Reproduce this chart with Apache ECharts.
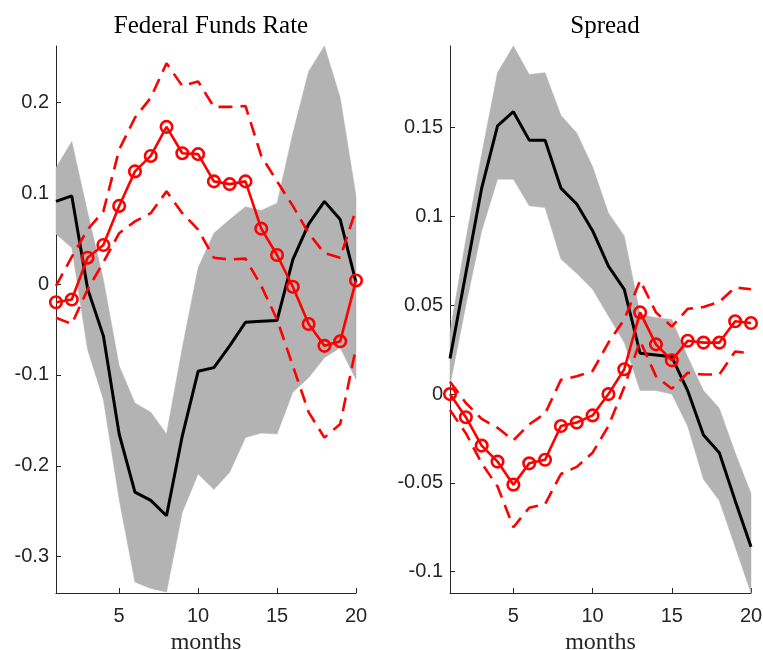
<!DOCTYPE html>
<html>
<head>
	<meta http-equiv="Content-Type" content="text/html;charset=utf-8" />
	<title>IRF</title>
	<script src="https://cdnjs.cloudflare.com/ajax/libs/echarts/6.0.0/echarts.min.js"></script>
	<style> body { margin: 0; background: #fff; } </style>
</head>
<body>
	<div id="chart" style="width:763px; height:650px;"></div>
	<script>

		////////////////////////////////////////////////////////
		//////////////////////// Dados /////////////////////////
		////////////////////////////////////////////////////////

		var months = [1, 2, 3, 4, 5, 6, 7, 8, 9, 10, 11, 12, 13, 14, 15, 16, 17, 18, 19, 20];
		var xTicks = [5, 10, 15, 20];

		// Federal Funds Rate
		var ffrMedian = [0.091, 0.097, -0.005, -0.057, -0.165, -0.229, -0.238, -0.255, -0.167, -0.096, -0.092, -0.068, -0.042, -0.041, -0.040, 0.027, 0.066, 0.091, 0.071, 0.002];
		var ffrBandUp = [0.128, 0.157, 0.079, 0.005, -0.090, -0.131, -0.141, -0.165, -0.070, 0.018, 0.056, 0.071, 0.085, 0.081, 0.089, 0.166, 0.234, 0.262, 0.205, 0.097];
		var ffrBandLo = [0.055, 0.040, -0.072, -0.127, -0.237, -0.328, -0.335, -0.339, -0.251, -0.209, -0.226, -0.207, -0.169, -0.164, -0.165, -0.119, -0.103, -0.081, -0.070, -0.105];
		var ffrIrf    = [-0.020, -0.017, 0.029, 0.043, 0.086, 0.124, 0.141, 0.173, 0.144, 0.143, 0.113, 0.110, 0.113, 0.061, 0.032, -0.003, -0.044, -0.068, -0.063, 0.004];
		var ffrIrfUp  = [-0.002, 0.030, 0.060, 0.080, 0.148, 0.183, 0.205, 0.243, 0.218, 0.223, 0.195, 0.195, 0.196, 0.141, 0.113, 0.086, 0.056, 0.034, 0.029, 0.082];
		var ffrIrfLo  = [-0.037, -0.044, -0.006, 0.024, 0.056, 0.069, 0.078, 0.102, 0.078, 0.060, 0.029, 0.027, 0.028, -0.002, -0.039, -0.090, -0.141, -0.169, -0.154, -0.070];
		var ffrTicks  = [-0.3, -0.2, -0.1, 0, 0.1, 0.2];

		// Spread
		var sprMedian = [0.020, 0.068, 0.116, 0.151, 0.159, 0.143, 0.143, 0.116, 0.107, 0.092, 0.072, 0.059, 0.023, 0.022, 0.021, 0.002, -0.023, -0.033, -0.060, -0.086];
		var sprBandUp = [0.035, 0.087, 0.135, 0.181, 0.196, 0.180, 0.181, 0.157, 0.147, 0.128, 0.102, 0.089, 0.045, 0.043, 0.042, 0.021, 0.002, -0.008, -0.033, -0.056];
		var sprBandLo = [0.005, 0.050, 0.092, 0.121, 0.121, 0.106, 0.105, 0.076, 0.068, 0.059, 0.044, 0.029, 0.002, 0.002, 0.000, -0.018, -0.048, -0.060, -0.086, -0.112];
		var sprIrf    = [0.000, -0.013, -0.029, -0.038, -0.051, -0.039, -0.037, -0.018, -0.016, -0.012, 0.000, 0.014, 0.046, 0.028, 0.019, 0.030, 0.029, 0.029, 0.041, 0.040];
		var sprIrfUp  = [0.007, -0.005, -0.014, -0.019, -0.026, -0.017, -0.011, 0.008, 0.010, 0.013, 0.029, 0.042, 0.064, 0.046, 0.038, 0.048, 0.049, 0.052, 0.060, 0.059];
		var sprIrfLo  = [-0.009, -0.022, -0.039, -0.052, -0.075, -0.064, -0.062, -0.045, -0.041, -0.033, -0.018, 0.004, 0.030, 0.010, 0.003, 0.012, 0.011, 0.011, 0.024, 0.023];
		var sprTicks  = [-0.1, -0.05, 0, 0.05, 0.1, 0.15];

		////////////////////////////////////////////////////////
		////////////////////// Gráfico /////////////////////////
		////////////////////////////////////////////////////////

		var corTexto = '#262626';
		var corBanda = '#b3b3b3';
		var corVermelho = '#ff0000';
		var fonteSerif = '"Liberation Serif", "DejaVu Serif", serif';
		var fonteSans = '"Liberation Sans", Arial, sans-serif';

		function pares(ys) {
			return months.map(function (m, i) { return [m, ys[i]]; });
		}

		function eixoX(idx) {
			return {
				gridIndex: idx, type: 'value', min: 1, max: 20,
				name: 'months', nameLocation: 'middle', nameGap: 37,
				nameTextStyle: { fontFamily: fonteSerif, fontSize: 24, color: corTexto },
				axisLine: { onZero: false, lineStyle: { color: corTexto, width: 1 } },
				axisTick: { inside: true, length: 5, customValues: xTicks, lineStyle: { color: corTexto } },
				axisLabel: { customValues: xTicks, fontFamily: fonteSans, fontSize: 20, color: corTexto, margin: 13 },
				splitLine: { show: false }
			};
		}
		function eixoY(idx, min, max, ticks) {
			return {
				gridIndex: idx, type: 'value', min: min, max: max,
				axisLine: { show: true, onZero: false, lineStyle: { color: corTexto, width: 1 } },
				axisTick: { show: true, inside: true, length: 5, customValues: ticks, lineStyle: { color: corTexto } },
				axisLabel: { customValues: ticks, fontFamily: fonteSans, fontSize: 20, color: corTexto, margin: 7,
					formatter: function (v) { return String(+v.toFixed(3)); } },
				splitLine: { show: false }
			};
		}

		// banda de confiança: polígono (limite superior e depois o inferior de volta)
		function banda(idx, up, lo) {
			return {
				type: 'custom', xAxisIndex: idx, yAxisIndex: idx, silent: true, z: 1,
				data: months.map(function (m, i) { return [m, lo[i], up[i]]; }),
				encode: { x: 0, y: [1, 2] },
				renderItem: function (params, api) {
					if (params.dataIndex !== 0) return;
					var pts = [];
					for (var i = 0; i < months.length; i++) pts.push(api.coord([months[i], up[i]]));
					for (var j = months.length - 1; j >= 0; j--) pts.push(api.coord([months[j], lo[j]]));
					return { type: 'polygon', shape: { points: pts }, style: { fill: corBanda, stroke: corBanda, lineWidth: 0.5 } };
				}
			};
		}

		function painel(idx, median, bandUp, bandLo, irf, irfUp, irfLo) {
			var base = { xAxisIndex: idx, yAxisIndex: idx, type: 'line', symbol: 'none', silent: true };
			var tracejado = { color: corVermelho, width: 2.6, type: [14, 8] };
			return [
				banda(idx, bandUp, bandLo),
				Object.assign({}, base, { data: pares(median), lineStyle: { color: '#000', width: 3 }, z: 3 }),
				Object.assign({}, base, { data: pares(irfUp), lineStyle: tracejado, z: 4 }),
				Object.assign({}, base, { data: pares(irfLo), lineStyle: tracejado, z: 4 }),
				Object.assign({}, base, { data: pares(irf), symbol: 'circle', symbolSize: 11.5,
					lineStyle: { color: corVermelho, width: 2.6 },
					itemStyle: { color: 'rgba(0,0,0,0)', borderColor: corVermelho, borderWidth: 2.6 }, z: 5 })
			];
		}

		var option = {
			animation: false,
			title: [
				{ text: 'Federal Funds Rate', left: 206, top: 9, textAlign: 'center',
					textStyle: { fontFamily: fonteSerif, fontSize: 25, fontWeight: 'normal', color: '#000' } },
				{ text: 'Spread', left: 600, top: 9, textAlign: 'center',
					textStyle: { fontFamily: fonteSerif, fontSize: 25, fontWeight: 'normal', color: '#000' } }
			],
			grid: [
				{ left: 56, top: 46, width: 300, height: 547, outerBoundsMode: 'none', containLabel: false },
				{ left: 450, top: 46, width: 301, height: 547, outerBoundsMode: 'none', containLabel: false }
			],
			xAxis: [eixoX(0), eixoX(1)],
			yAxis: [eixoY(0, -0.34, 0.262, ffrTicks), eixoY(1, -0.112, 0.196, sprTicks)],
			series: [].concat(
				painel(0, ffrMedian, ffrBandUp, ffrBandLo, ffrIrf, ffrIrfUp, ffrIrfLo),
				painel(1, sprMedian, sprBandUp, sprBandLo, sprIrf, sprIrfUp, sprIrfLo)
			)
		};

		var chart = echarts.init(document.getElementById('chart'));
		chart.setOption(option);

	</script>
</body>
</html>
